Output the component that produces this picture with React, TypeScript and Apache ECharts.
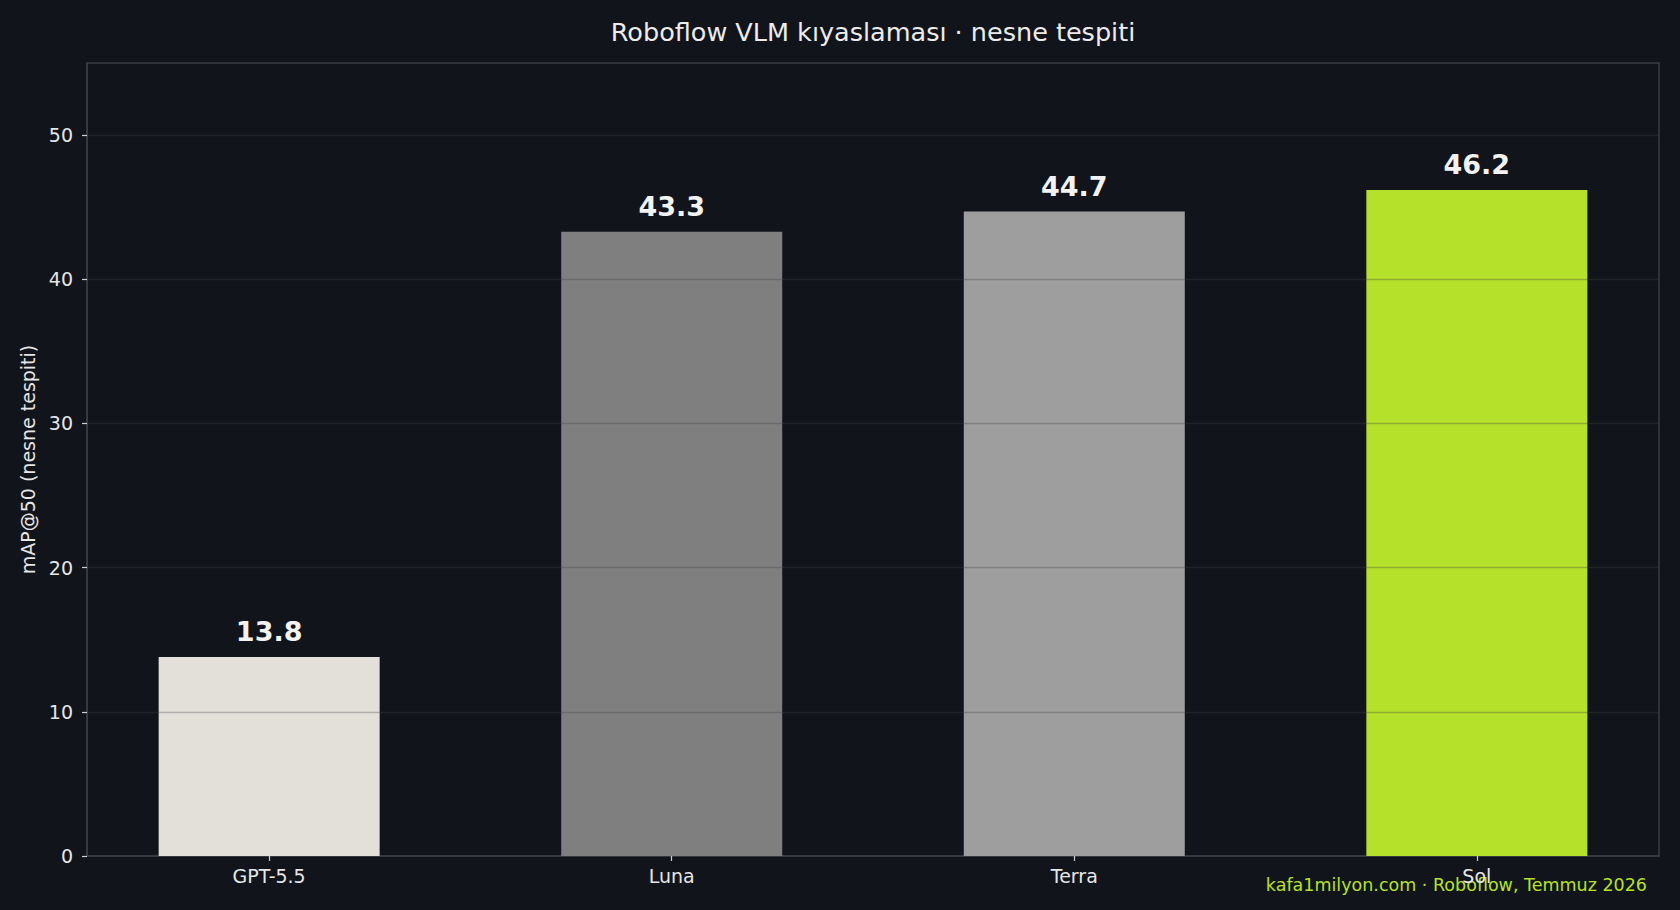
import React, { useEffect, useRef } from "react";
import * as echarts from "echarts";

const categories = ["GPT-5.5", "Luna", "Terra", "Sol"];
const values = [13.8, 43.3, 44.7, 46.2];
const barColors = ["#e3e0da", "#7f7f7f", "#9e9e9e", "#b6e12a"];
const yTicks = [0, 10, 20, 30, 40, 50];
const yMin = 0;
const yMax = 55;
const xMin = -0.4525;
const xMax = 3.4525;
const titleText = "Roboflow VLM kıyaslaması · nesne tespiti";
const yName = "mAP@50 (nesne tespiti)";
const footnote = "kafa1milyon.com · Roboflow, Temmuz 2026";

const FONT = "DejaVu Sans";
const BG = "#11141b";
const SPINE = "#3a3d44";

export default function App() {
  const ref = useRef<HTMLDivElement>(null);
  useEffect(() => {
    if (!ref.current) return;
    const chart = echarts.init(ref.current, undefined, { renderer: "svg" });
    const xIdx = categories.map((_, i) => i);
    chart.setOption({
      animation: false,
      backgroundColor: BG,
      textStyle: { fontFamily: FONT },
      grid: {
        left: 87,
        right: 21,
        top: 63,
        bottom: 54,
        show: true,
        borderColor: SPINE,
        borderWidth: 1.5,
        backgroundColor: "transparent",
        containLabel: false,
      },
      xAxis: {
        type: "value",
        min: xMin,
        max: xMax,
        splitLine: { show: false },
        axisLine: { show: true, onZero: false, lineStyle: { color: SPINE, width: 1.5 } },
        axisTick: {
          show: true,
          customValues: xIdx,
          length: 5,
          lineStyle: { color: "#cfcfcf", width: 1.2 },
        },
        axisLabel: {
          customValues: xIdx,
          formatter: (v: number) => categories[Math.round(v)] ?? "",
          color: "#e6e6e6",
          fontSize: 19,
          fontFamily: FONT,
          margin: 10,
        },
      },
      yAxis: {
        type: "value",
        min: yMin,
        max: yMax,
        interval: 10,
        name: yName,
        nameLocation: "middle",
        nameGap: 48,
        nameTextStyle: { color: "#e6e6e6", fontSize: 19, fontFamily: FONT },
        splitLine: { show: false },
        axisLine: { show: true, onZero: false, lineStyle: { color: SPINE, width: 1.5 } },
        axisTick: {
          show: true,
          customValues: yTicks,
          length: 5,
          lineStyle: { color: "#cfcfcf", width: 1.2 },
        },
        axisLabel: {
          customValues: yTicks,
          color: "#e6e6e6",
          fontSize: 19,
          fontFamily: FONT,
          margin: 14,
        },
      },
      graphic: [
        {
          type: "text",
          x: 873,
          y: 32,
          style: {
            text: titleText,
            fill: "#ececec",
            fontSize: 25.5,
            fontFamily: FONT,
            textAlign: "center",
            textVerticalAlign: "middle",
          },
        },
        {
          type: "text",
          x: 1647,
          y: 885,
          style: {
            text: footnote,
            fill: "#b6e12a",
            fontSize: 17.5,
            fontFamily: FONT,
            textAlign: "right",
            textVerticalAlign: "middle",
          },
        },
      ],
      series: [
        {
          type: "bar",
          barWidth: 221,
          data: values.map((v, i) => ({
            value: [i, v],
            itemStyle: { color: barColors[i] },
          })),
          label: {
            show: true,
            position: "top",
            distance: 12,
            formatter: (p: any) => Number(p.value[1]).toFixed(1),
            color: "#f2f2f2",
            fontSize: 27,
            fontWeight: "bold",
            fontFamily: FONT,
          },
          markLine: {
            silent: true,
            symbol: "none",
            label: { show: false },
            lineStyle: { color: "rgba(66,66,70,0.32)", width: 1.3, type: "solid" },
            data: yTicks.filter((t) => t > yMin).map((t) => ({ yAxis: t })),
          },
        },
      ],
    });
    return () => chart.dispose();
  }, []);
  return (
    <div
      ref={ref}
      style={{ position: "fixed", left: 0, top: 0, width: 1680, height: 910 }}
    />
  );
}
